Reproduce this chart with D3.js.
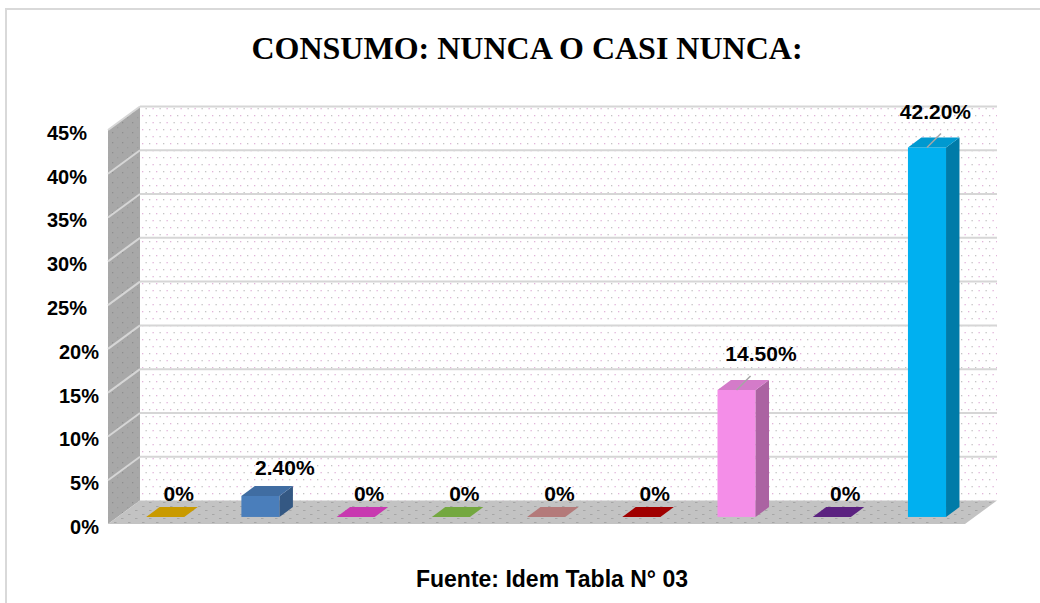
<!DOCTYPE html>
<html>
<head>
<meta charset="utf-8">
<script src="https://cdn.jsdelivr.net/npm/d3@7"></script>
<style>
  html, body { margin: 0; padding: 0; background: #ffffff; }
  svg { display: block; }
</style>
</head>
<body>
<svg id="chart" width="1040" height="603"></svg>
<script>
// ---- data ----
const categories = ["A", "B", "C", "D", "E", "F", "G", "H", "I"];
const values = [0, 2.4, 0, 0, 0, 0, 14.5, 0, 42.2];
const valueLabels = ["0%", "2.40%", "0%", "0%", "0%", "0%", "14.50%", "0%", "42.20%"];
const barColors = ["#e8b200", "#4a7ebb", "#e742cb", "#86c24a", "#d08d8d", "#b90000", "#f48ee8", "#692794", "#00b0f0"];
const yTicks = [0, 5, 10, 15, 20, 25, 30, 35, 40, 45];
const titleText = "CONSUMO: NUNCA O CASI NUNCA:";
const footerText = "Fuente: Idem Tabla N° 03";

// ---- layout ----
const svg = d3.select("#chart");
const W = 1040, H = 603;
const floorLeft = 108, floorRight = 965, floorFrontY = 524;
const DX = 32, DY = 23.5;          // full depth vector of the 3D box
const fFront = 0.3, fBack = 0.72;  // bar depth placement

const x = d3.scaleBand().domain(categories).range([floorLeft, floorRight])
  .paddingInner(0.6).paddingOuter(0.3);
const y = d3.scaleLinear().domain([0, 45]).range([floorFrontY, floorFrontY - 394]);

// depth helpers
const px = (xx, f) => xx + f * DX;
const py = (yy, f) => yy - f * DY;

// ---- defs / patterns ----
const defs = svg.append("defs");
const pw = defs.append("pattern").attr("id", "dotsWall").attr("patternUnits", "userSpaceOnUse")
  .attr("width", 14).attr("height", 14);
pw.append("rect").attr("width", 14).attr("height", 14).attr("fill", "#ffffff");
[[2, 3, "#e2b4da"], [9, 3, "#c4c4c4"], [5.5, 10, "#c4c4c4"], [12.5, 10, "#e2b4da"]].forEach(d =>
  pw.append("rect").attr("x", d[0]).attr("y", d[1]).attr("width", 1.3).attr("height", 1.3).attr("fill", d[2]));

const ps = defs.append("pattern").attr("id", "dotsSide").attr("patternUnits", "userSpaceOnUse")
  .attr("width", 10).attr("height", 10);
ps.append("rect").attr("width", 10).attr("height", 10).attr("fill", "#a8a8a8");
[[2, 2, "#8e8e8e"], [7, 7, "#9a9a9a"]].forEach(d =>
  ps.append("rect").attr("x", d[0]).attr("y", d[1]).attr("width", 1.3).attr("height", 1.3).attr("fill", d[2]));

const pf = defs.append("pattern").attr("id", "dotsFloor").attr("patternUnits", "userSpaceOnUse")
  .attr("width", 14).attr("height", 8);
pf.append("rect").attr("width", 14).attr("height", 8).attr("fill", "#c3c3c3");
[[2, 2, "#a6a6a6"], [9, 6, "#a6a6a6"]].forEach(d =>
  pf.append("rect").attr("x", d[0]).attr("y", d[1]).attr("width", 2.5).attr("height", 1).attr("fill", d[2]));

// ---- chart border ----
svg.append("rect").attr("x", 6).attr("y", 9).attr("width", 1200).attr("height", 800)
  .attr("fill", "none").attr("stroke", "#d9d9d9").attr("stroke-width", 2);

// ---- title ----
svg.append("text").attr("x", 527).attr("y", 59).attr("text-anchor", "middle")
  .attr("font-family", "'Liberation Serif', 'Times New Roman', serif").attr("font-weight", "bold")
  .attr("font-size", 32).attr("fill", "#000").text(titleText);

// ---- walls ----
const backL = px(floorLeft, 1), backR = px(floorRight, 1);
const yb = v => py(y(v), 1);
svg.append("rect").attr("x", backL).attr("y", yb(45)).attr("width", backR - backL)
  .attr("height", yb(0) - yb(45)).attr("fill", "url(#dotsWall)");

svg.append("polygon").attr("points", [
  [floorLeft, y(0)], [floorLeft, y(45)], [backL, yb(45)], [backL, yb(0)]
].map(p => p.join(",")).join(" ")).attr("fill", "url(#dotsSide)");

svg.append("polygon").attr("points", [
  [floorLeft, y(0)], [backL, yb(0)], [backR, yb(0)], [floorRight, y(0)]
].map(p => p.join(",")).join(" ")).attr("fill", "url(#dotsFloor)");

// gridlines (back wall + side wall)
const grid = svg.append("g").attr("stroke", "#d6d6d6").attr("stroke-width", 2).attr("fill", "none");
yTicks.filter(t => t > 0).forEach(t => {
  grid.append("line").attr("x1", backL).attr("x2", backR).attr("y1", yb(t)).attr("y2", yb(t));
  grid.append("line").attr("x1", floorLeft).attr("x2", backL).attr("y1", y(t)).attr("y2", yb(t));
});

// ---- y axis labels ----
const yLabelScale = y.copy().range([y(0) + 3, y(45) + 3]);
const axisG = svg.append("g").attr("transform", `translate(99,0)`)
  .call(d3.axisLeft(yLabelScale).tickValues(yTicks).tickSize(0).tickPadding(0).tickFormat(d => d + "%"));
axisG.select(".domain").remove();
axisG.selectAll("text")
  .attr("font-family", "'Liberation Sans', Arial, sans-serif").attr("font-weight", "bold")
  .attr("font-size", 20).attr("fill", "#000")
  .attr("x", d => d >= 25 ? -12 : 0);

// ---- bars ----
const bars = svg.append("g");
categories.forEach((c, i) => {
  const v = values[i];
  const base = d3.color(barColors[i]);
  const x0 = px(x(c), fFront), w = x.bandwidth();
  const yTopF = py(y(v), fFront), yBotF = py(y(0), fFront);
  const ddx = (fBack - fFront) * DX, ddy = (fBack - fFront) * DY;
  const g = bars.append("g");
  if (v > 0) {
    g.append("rect").attr("x", x0).attr("y", yTopF).attr("width", w).attr("height", yBotF - yTopF)
      .attr("fill", base.formatHex());
    g.append("polygon").attr("points", [
      [x0 + w, yTopF], [x0 + w + ddx, yTopF - ddy], [x0 + w + ddx, yBotF - ddy], [x0 + w, yBotF]
    ].map(p => p.join(",")).join(" ")).attr("fill", base.darker(1).formatHex());
  }
  g.append("polygon").attr("points", [
    [x0, yTopF], [x0 + w, yTopF], [x0 + w + ddx, yTopF - ddy], [x0 + ddx, yTopF - ddy]
  ].map(p => p.join(",")).join(" ")).attr("fill", base.darker(0.4).formatHex());

  // data label
  const backCx = x0 + ddx + w / 2;
  const backTop = yTopF - ddy;
  const leader = v >= 10;
  const lx = backCx + (v > 0 && v < 40 ? 11 : (v >= 40 ? -5 : 0));
  const ly = backTop - (leader ? 19 : 6 + 2 * v);
  if (leader) {
    const sx = x0 + w / 2;
    g.append("line").attr("x1", sx).attr("y1", yTopF).attr("x2", sx + 14).attr("y2", yTopF - 14)
      .attr("stroke", "#a6a6a6").attr("stroke-width", 1.5);
  }
  g.append("text").attr("x", lx).attr("y", ly).attr("text-anchor", "middle")
    .attr("font-family", "'Liberation Sans', Arial, sans-serif").attr("font-weight", "bold")
    .attr("font-size", 21).attr("fill", "#000").text(valueLabels[i]);
});

// ---- footer ----
svg.append("text").attr("x", 552).attr("y", 587).attr("text-anchor", "middle")
  .attr("font-family", "'Liberation Sans', Arial, sans-serif").attr("font-weight", "bold")
  .attr("font-size", 23).attr("fill", "#000").text(footerText);
</script>
</body>
</html>
